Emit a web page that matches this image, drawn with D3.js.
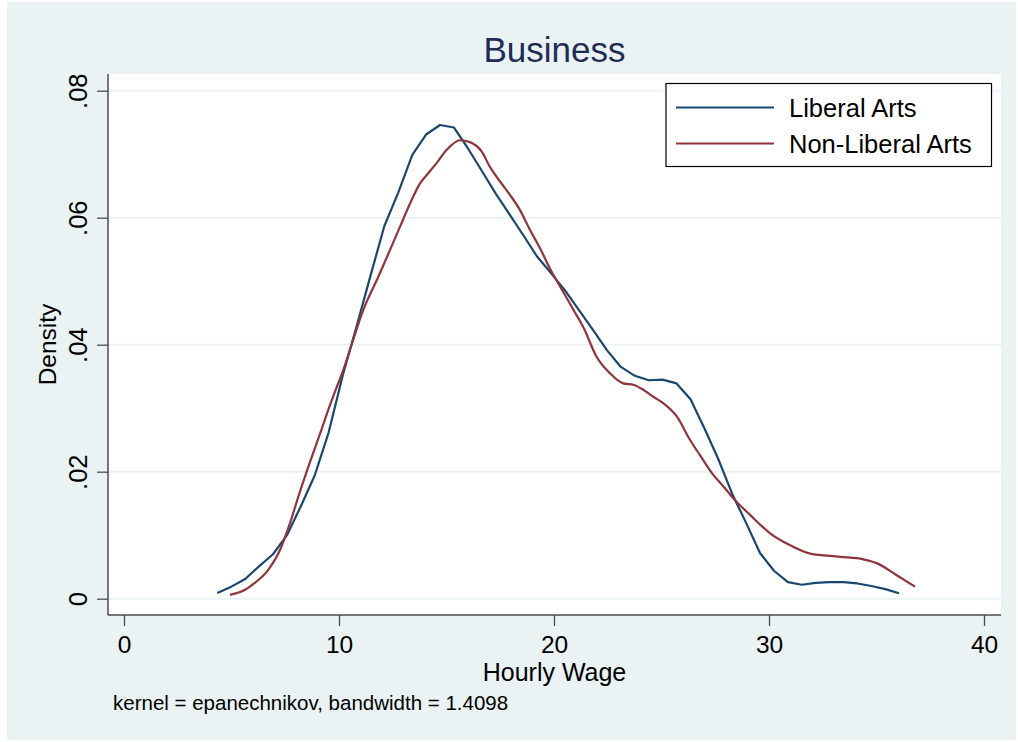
<!DOCTYPE html>
<html>
<head>
<meta charset="utf-8">
<script src="https://cdn.jsdelivr.net/npm/d3@7"></script>
<style>
  html, body { margin: 0; padding: 0; background: #ffffff; }
  svg { display: block; }
  text { font-family: "Liberation Sans", Arial, Helvetica, sans-serif; }
</style>
</head>
<body>
<svg id="chart" width="1018" height="742"></svg>
<script>
// Kernel density estimates of hourly wage, Business majors
const chartTitle = "Business";
const xTitle = "Hourly Wage";
const yTitle = "Density";
const note = "kernel = epanechnikov, bandwidth = 1.4098";
const seriesNames = ["Liberal Arts", "Non-Liberal Arts"];
const seriesColors = ["#1a476f", "#90353b"];

const xTicks = [0, 10, 20, 30, 40];
const xTickLabels = ["0", "10", "20", "30", "40"];
const yTicks = [0, 0.02, 0.04, 0.06, 0.08];
const yTickLabels = ["0", ".02", ".04", ".06", ".08"];

// Liberal Arts: evaluation points and density
const libWage = [4.34, 4.99, 5.64, 6.28, 6.93, 7.58, 8.23, 8.87, 9.52, 10.17,
  10.82, 11.46, 12.11, 12.76, 13.41, 14.05, 14.70, 15.35, 16.00, 16.64,
  17.29, 17.94, 18.58, 19.23, 19.88, 20.52, 21.17, 21.82, 22.47, 23.11,
  23.76, 24.41, 25.05, 25.70, 26.35, 27.00, 27.64, 28.29, 28.94, 29.58,
  30.23, 30.88, 31.53, 32.17, 32.82, 33.47, 34.11, 34.76, 35.41, 36.05];
const libDensity = [0.0009, 0.0019, 0.0031, 0.0051, 0.0070, 0.0100, 0.0146, 0.0194, 0.0262, 0.0351,
  0.0429, 0.0508, 0.0587, 0.0640, 0.0699, 0.0731, 0.0746, 0.0742, 0.0709, 0.0674,
  0.0638, 0.0605, 0.0572, 0.0538, 0.0512, 0.0485, 0.0454, 0.0423, 0.0391, 0.0365,
  0.0351, 0.0344, 0.0345, 0.0339, 0.0314, 0.0268, 0.0220, 0.0165, 0.0119, 0.0072,
  0.0044, 0.0026, 0.0022, 0.0025, 0.0026, 0.0026, 0.0024, 0.0020, 0.0015, 0.00085];

// Non-Liberal Arts: evaluation points and density
const nonWage = [4.93, 5.63, 6.01, 6.70, 7.26, 7.49, 7.72, 8.15, 8.65, 9.12,
  9.55, 9.80, 10.20, 10.51, 11.13, 11.83, 12.37, 12.84, 13.30, 13.77,
  14.20, 14.54, 15.01, 15.63, 16.09, 16.64, 17.02, 17.49, 17.95, 18.42,
  18.88, 19.35, 19.81, 20.43, 20.90, 21.36, 21.98, 22.60, 23.22, 23.69,
  24.15, 24.62, 25.08, 25.71, 26.33, 26.79, 27.41, 27.90, 28.34, 29.12,
  30.05, 30.82, 31.91, 33.30, 34.39, 35.01, 35.94, 36.79];
const nonDensity = [0.0006, 0.0014, 0.0023, 0.0045, 0.0077, 0.0097, 0.0119, 0.0165, 0.0215, 0.0260,
  0.0302, 0.0325, 0.0360, 0.0392, 0.0455, 0.0507, 0.0549, 0.0586, 0.0622, 0.0654,
  0.0672, 0.0686, 0.0707, 0.0722, 0.0719, 0.0704, 0.0680, 0.0657, 0.0636, 0.0612,
  0.0581, 0.0552, 0.0520, 0.0483, 0.0455, 0.0428, 0.0381, 0.0355, 0.0339, 0.0337,
  0.0329, 0.0318, 0.0308, 0.0287, 0.0250, 0.0226, 0.0195, 0.0176, 0.0158, 0.0132,
  0.0103, 0.0087, 0.0071, 0.0066, 0.0062, 0.0056, 0.0037, 0.0019];

const plot = { left: 108, right: 1001, top: 74, bottom: 615 };
const bgColor = "#eaf2f3";
const axisColor = "#4d4d4d";

const svg = d3.select("#chart");

// outer graph region
svg.append("rect").attr("x", 7).attr("y", 2).attr("width", 1009).attr("height", 738)
  .attr("fill", bgColor);
// plot region
svg.append("rect").attr("x", plot.left).attr("y", plot.top)
  .attr("width", plot.right - plot.left).attr("height", plot.bottom - plot.top)
  .attr("fill", "#ffffff");

const x = d3.scaleLinear().domain([0, 40]).range([124, 984]);
const y = d3.scaleLinear().domain([0, 0.08]).range([598.7, 90.7]);

// horizontal grid lines
svg.append("g").selectAll("line").data(yTicks).join("line")
  .attr("x1", plot.left + 1).attr("x2", plot.right)
  .attr("y1", d => y(d)).attr("y2", d => y(d))
  .attr("stroke", bgColor).attr("stroke-width", 2);

// y axis
const yAxis = d3.axisLeft(y).tickValues(yTicks).tickSize(11)
  .tickFormat((d, i) => yTickLabels[i]);
const gy = svg.append("g").attr("transform", `translate(${plot.left},0)`).call(yAxis);
gy.select(".domain").remove();
gy.selectAll(".tick line").attr("stroke", axisColor).attr("stroke-width", 1.3);
gy.selectAll(".tick text")
  .attr("x", null).attr("dy", null)
  .attr("transform", "translate(-21,0) rotate(-90)")
  .attr("text-anchor", "middle")
  .attr("font-size", 25.5)
  .attr("fill", "#000");
svg.append("line").attr("x1", plot.left).attr("x2", plot.left)
  .attr("y1", plot.top).attr("y2", plot.bottom)
  .attr("stroke", axisColor).attr("stroke-width", 1.5);

// x axis
const xAxis = d3.axisBottom(x).tickValues(xTicks).tickSize(11)
  .tickFormat((d, i) => xTickLabels[i]);
const gx = svg.append("g").attr("transform", `translate(0,${plot.bottom})`).call(xAxis);
gx.select(".domain").remove();
gx.selectAll(".tick line").attr("stroke", axisColor).attr("stroke-width", 1.3);
gx.selectAll(".tick text")
  .attr("y", 37.5).attr("dy", null)
  .attr("font-size", 24.5)
  .attr("fill", "#000");
svg.append("line").attr("x1", plot.left).attr("x2", plot.right)
  .attr("y1", plot.bottom).attr("y2", plot.bottom)
  .attr("stroke", axisColor).attr("stroke-width", 1.5);

// density curves
const libData = libWage.map((w, i) => ({ w, d: libDensity[i] }));
const nonData = nonWage.map((w, i) => ({ w, d: nonDensity[i] }));

svg.append("path").datum(libData)
  .attr("d", d3.line().x(p => x(p.w)).y(p => y(p.d)).curve(d3.curveLinear))
  .attr("fill", "none").attr("stroke", seriesColors[0]).attr("stroke-width", 2.2)
  .attr("stroke-linejoin", "round");
svg.append("path").datum(nonData)
  .attr("d", d3.line().x(p => x(p.w)).y(p => y(p.d)).curve(d3.curveMonotoneX))
  .attr("fill", "none").attr("stroke", seriesColors[1]).attr("stroke-width", 2.2)
  .attr("stroke-linejoin", "round");

// title
svg.append("text").attr("x", (plot.left + plot.right) / 2).attr("y", 62)
  .attr("text-anchor", "middle").attr("font-size", 35).attr("fill", "#1e2d53")
  .text(chartTitle);

// axis titles
svg.append("text").attr("x", (plot.left + plot.right) / 2).attr("y", 680.5)
  .attr("text-anchor", "middle").attr("font-size", 25).attr("fill", "#000")
  .text(xTitle);
svg.append("text")
  .attr("transform", `translate(56,${(plot.top + plot.bottom) / 2}) rotate(-90)`)
  .attr("text-anchor", "middle").attr("font-size", 24.5).attr("fill", "#000")
  .text(yTitle);

// note
svg.append("text").attr("x", 113).attr("y", 710)
  .attr("font-size", 20.5).attr("fill", "#000").text(note);

// legend
const lg = svg.append("g");
lg.append("rect").attr("x", 666).attr("y", 83.5).attr("width", 325.5).attr("height", 83)
  .attr("fill", "#ffffff").attr("stroke", "#000").attr("stroke-width", 1.2);
seriesNames.forEach((name, i) => {
  const cy = 107.5 + i * 36;
  lg.append("line").attr("x1", 676).attr("x2", 774).attr("y1", cy).attr("y2", cy)
    .attr("stroke", seriesColors[i]).attr("stroke-width", 2.2);
  lg.append("text").attr("x", 789).attr("y", cy + 9.3)
    .attr("font-size", 25.5).attr("fill", "#000").text(name);
});
</script>
</body>
</html>
